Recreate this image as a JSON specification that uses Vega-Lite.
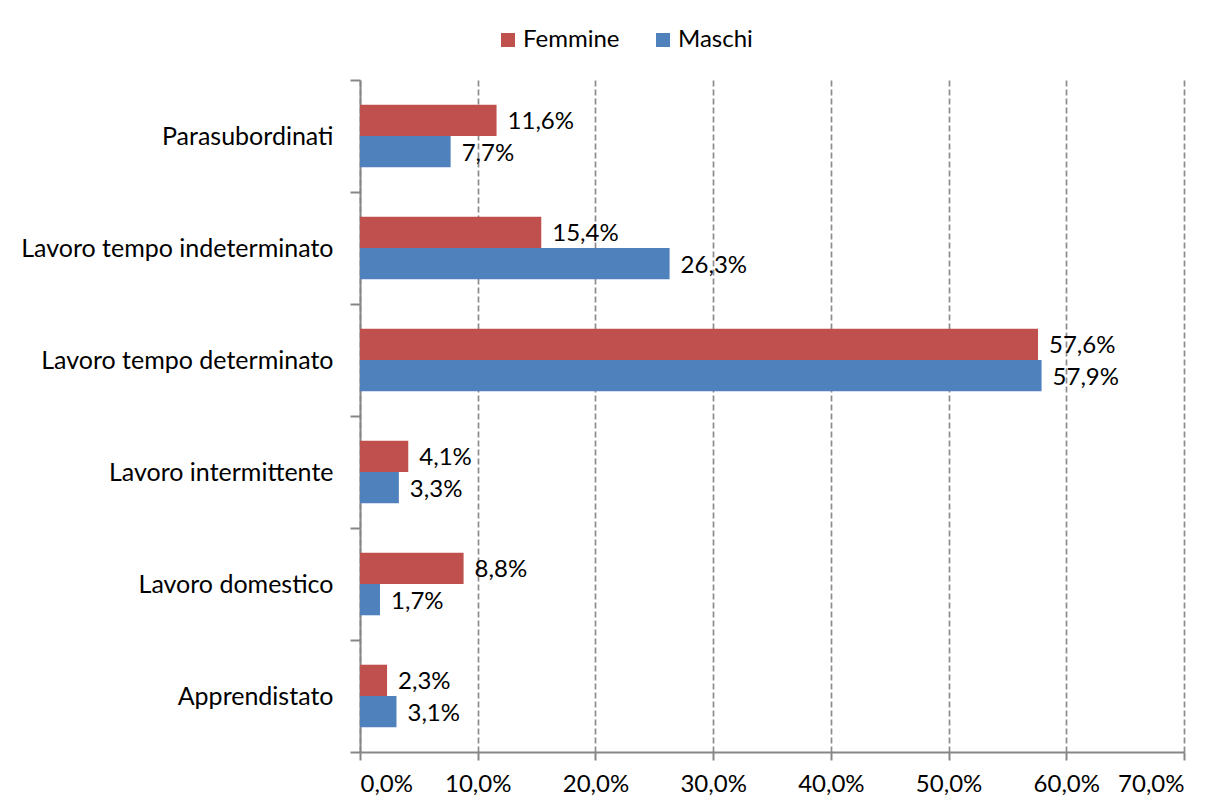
{
  "$schema": "https://vega.github.io/schema/vega-lite/v6.json",
  "width": 824,
  "height": 672,
  "autosize": {"type": "none"},
  "padding": {"left": 360, "top": 80, "right": 41, "bottom": 57},
  "background": "white",
  "config": {
    "locale": {"number": {"decimal": ",", "thousands": ".", "grouping": [3], "currency": ["€", ""]}},
    "font": "Lato",
    "view": {"stroke": null}
  },
  "data": {
    "values": [
      {"categoria": "Parasubordinati", "genere": "Femmine", "valore": 0.116},
      {"categoria": "Parasubordinati", "genere": "Maschi", "valore": 0.077},
      {"categoria": "Lavoro tempo indeterminato", "genere": "Femmine", "valore": 0.154},
      {"categoria": "Lavoro tempo indeterminato", "genere": "Maschi", "valore": 0.263},
      {"categoria": "Lavoro tempo determinato", "genere": "Femmine", "valore": 0.576},
      {"categoria": "Lavoro tempo determinato", "genere": "Maschi", "valore": 0.579},
      {"categoria": "Lavoro intermittente", "genere": "Femmine", "valore": 0.041},
      {"categoria": "Lavoro intermittente", "genere": "Maschi", "valore": 0.033},
      {"categoria": "Lavoro domestico", "genere": "Femmine", "valore": 0.088},
      {"categoria": "Lavoro domestico", "genere": "Maschi", "valore": 0.017},
      {"categoria": "Apprendistato", "genere": "Femmine", "valore": 0.023},
      {"categoria": "Apprendistato", "genere": "Maschi", "valore": 0.031}
    ]
  },
  "encoding": {
    "y": {
      "field": "categoria",
      "type": "nominal",
      "sort": ["Parasubordinati", "Lavoro tempo indeterminato", "Lavoro tempo determinato", "Lavoro intermittente", "Lavoro domestico", "Apprendistato"],
      "scale": {"paddingInner": 0, "paddingOuter": 0},
      "axis": {
        "title": null,
        "domain": true,
        "tickBand": "extent",
        "domainColor": "#868686",
        "domainWidth": 2,
        "tickColor": "#868686",
        "tickWidth": 2,
        "tickSize": 10,
        "labelFontSize": 25,
        "labelColor": "black",
        "labelPadding": 17,
        "labelLimit": 400,
        "labelFont": "Lato",
        "grid": false
      }
    },
    "yOffset": {
      "field": "genere",
      "type": "nominal",
      "sort": ["Femmine", "Maschi"],
      "scale": {"paddingInner": 0, "paddingOuter": 0.79}
    },
    "x": {
      "field": "valore",
      "type": "quantitative",
      "scale": {"domain": [0, 0.7], "nice": false},
      "axis": {
        "title": null,
        "format": ".1%",
        "values": [0, 0.1, 0.2, 0.3, 0.4, 0.5, 0.6, 0.7],
        "domainColor": "#868686",
        "domainWidth": 2,
        "tickColor": "#868686",
        "tickWidth": 2,
        "tickSize": 8,
        "labelFontSize": 24,
        "labelColor": "black",
        "labelPadding": 12,
        "grid": true,
        "gridColor": "#8c8c8c",
        "gridWidth": 1.7,
        "gridDash": [6, 3]
      }
    }
  },
  "layer": [
    {
      "mark": {"type": "bar"},
      "encoding": {
        "color": {
          "field": "genere",
          "type": "nominal",
          "scale": {"domain": ["Femmine", "Maschi"], "range": ["#C0504D", "#4F81BD"]},
          "legend": {
            "title": null,
            "orient": "none",
            "direction": "horizontal",
            "legendX": 136,
            "legendY": -52,
            "symbolType": "square",
            "symbolSize": 196,
            "symbolStrokeWidth": 0,
            "labelFontSize": 24,
            "labelColor": "black",
            "columnPadding": 31,
            "labelOffset": 3
          }
        }
      }
    },
    {
      "mark": {"type": "text", "align": "left", "baseline": "middle", "dx": 11, "dy": 2, "fontSize": 24, "color": "black"},
      "encoding": {
        "text": {"field": "valore", "type": "quantitative", "format": ".1%"}
      }
    }
  ]
}
